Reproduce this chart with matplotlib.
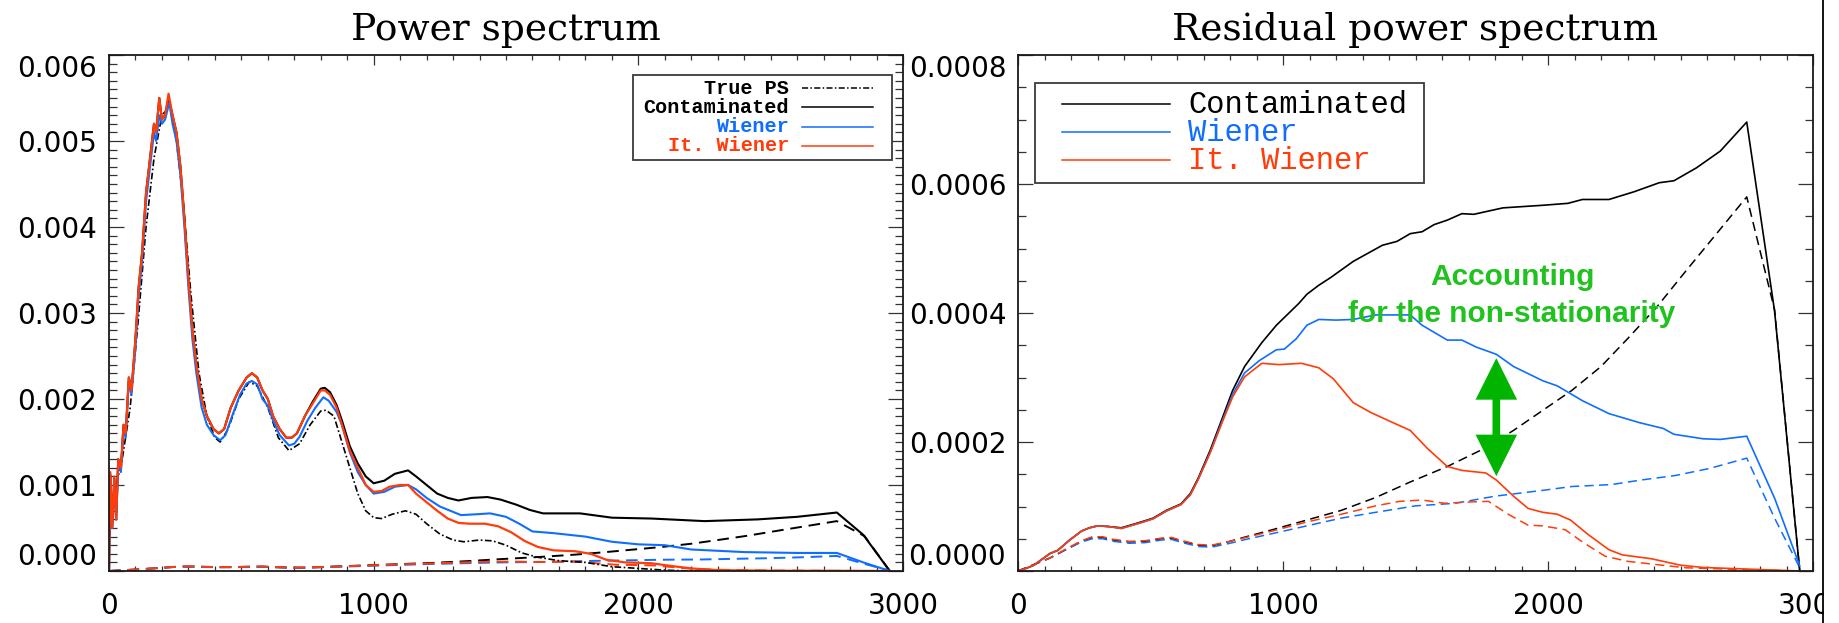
import numpy as np
import matplotlib
matplotlib.use("Agg")
import matplotlib.pyplot as plt
from matplotlib.lines import Line2D
from matplotlib.patches import Rectangle, FancyArrowPatch, ArrowStyle
from matplotlib.ticker import MultipleLocator, FormatStrFormatter

# ---------------------------------------------------------------- data
# Power spectra (left panel)
ell_true = [2, 20, 50, 80, 110, 140, 170, 200, 230, 255, 280, 310, 340, 370, 400, 420,
            450, 490, 530, 560, 600, 640, 680, 720, 760, 800, 820, 850, 880, 910, 940,
            970, 1000, 1030, 1070, 1120, 1160, 1200, 1250, 1300, 1340, 1400, 1450, 1500,
            1560, 1620, 1700, 1800, 1900, 2000, 2100, 2200, 2950]
ps_true = [0.0004, 0.0009, 0.0013, 0.0019, 0.0029, 0.0040, 0.0048, 0.0053, 0.0054, 0.0050,
           0.0043, 0.0032, 0.0023, 0.0018, 0.00155, 0.0015, 0.00165, 0.0020, 0.0022, 0.00215,
           0.0019, 0.00155, 0.0014, 0.00148, 0.0017, 0.00186, 0.00187, 0.0018, 0.0015, 0.0012,
           0.0009, 0.0007, 0.00062, 0.00061, 0.00066, 0.0007, 0.00066, 0.00055, 0.00043,
           0.00036, 0.00034, 0.00036, 0.00035, 0.0003, 0.00021, 0.00016, 0.00012, 0.0001,
           0.00005, 0.00003, 0.00001, 0.0, 0.0]

ell_cont = [0, 5, 12, 20, 27, 35, 45, 55, 63, 75, 85, 100, 112, 125, 140, 155, 170, 178,
            190, 200, 212, 225, 240, 255, 270, 285, 300, 315, 330, 350, 370, 395, 415, 435,
            460, 490, 520, 540, 560, 580, 600, 620, 645, 670, 690, 710, 740, 770, 800, 815,
            835, 860, 880, 910, 940, 970, 1000, 1040, 1080, 1130, 1160, 1200, 1240, 1280,
            1320, 1370, 1430, 1480, 1540, 1590, 1640, 1780, 1900, 2050, 2250, 2450, 2600,
            2750, 2850, 2950]
ps_cont = [0.0, 0.00112, 0.0005, 0.00108, 0.0006, 0.0013, 0.0012, 0.0017, 0.0016, 0.00225,
           0.0021, 0.0027, 0.0033, 0.0037, 0.0044, 0.0048, 0.0052, 0.0051, 0.0055, 0.00525,
           0.0053, 0.0055, 0.0053, 0.0051, 0.0047, 0.0041, 0.0034, 0.0028, 0.0024, 0.0020,
           0.0018, 0.00165, 0.0016, 0.00165, 0.0019, 0.0021, 0.00225, 0.0023, 0.00225,
           0.0021, 0.0020, 0.0018, 0.00165, 0.00155, 0.00155, 0.0016, 0.0018, 0.00197,
           0.00212, 0.00213, 0.00208, 0.00193, 0.00175, 0.00145, 0.00125, 0.0011, 0.00102,
           0.00105, 0.00113, 0.00117, 0.0011, 0.001, 0.0009, 0.00085, 0.00082, 0.00085,
           0.00086, 0.00083, 0.00077, 0.00071, 0.00067, 0.00067, 0.00062, 0.00061, 0.00058,
           0.0006, 0.00063, 0.00068, 0.00042, 0.0]

ell_wien = [0, 5, 12, 20, 27, 35, 45, 55, 63, 75, 85, 100, 112, 125, 140, 155, 170, 178,
            190, 200, 212, 228, 240, 255, 270, 285, 300, 315, 330, 350, 370, 395, 420, 440,
            465, 495, 520, 540, 560, 580, 600, 620, 645, 680, 700, 720, 750, 780, 810, 830,
            860, 880, 910, 940, 970, 1000, 1040, 1080, 1130, 1160, 1200, 1250, 1290, 1330,
            1390, 1440, 1500, 1550, 1600, 1680, 1800, 1900, 2000, 2100, 2200, 2400, 2600,
            2750, 2850, 2950]
ps_wien = [0.0, 0.0011, 0.0005, 0.00105, 0.0006, 0.00125, 0.00115, 0.00165, 0.00155,
           0.0022, 0.00205, 0.0026, 0.0032, 0.0036, 0.0043, 0.0047, 0.0051, 0.0050, 0.0053,
           0.0052, 0.00525, 0.00545, 0.0052, 0.0050, 0.0046, 0.0040, 0.0033, 0.0027, 0.0023,
           0.0019, 0.0017, 0.00158, 0.00152, 0.00158, 0.0018, 0.00205, 0.00218, 0.00221,
           0.00217, 0.002, 0.00192, 0.00175, 0.00158, 0.00146, 0.00148, 0.00156, 0.00175,
           0.0019, 0.00202, 0.00198, 0.00185, 0.0017, 0.00138, 0.00115, 0.001, 0.0009,
           0.00092, 0.00098, 0.001, 0.00095, 0.00085, 0.00075, 0.0007, 0.00065, 0.00066,
           0.00067, 0.00063, 0.00055, 0.00046, 0.00044, 0.0004, 0.00034, 0.00031, 0.0003,
           0.00025, 0.00022, 0.00021, 0.00021, 0.0001, 0.0]

ell_itw = [0, 5, 12, 20, 27, 35, 45, 55, 63, 75, 85, 100, 112, 125, 140, 155, 170, 178,
           190, 200, 212, 225, 240, 255, 270, 285, 300, 315, 330, 350, 370, 395, 415, 435,
           460, 490, 520, 540, 560, 580, 600, 620, 645, 670, 690, 710, 740, 770, 800, 815,
           835, 860, 880, 910, 940, 970, 1000, 1030, 1060, 1100, 1130, 1160, 1200, 1240,
           1280, 1320, 1360, 1420, 1470, 1520, 1570, 1620, 1680, 1760, 1820, 1880, 1950,
           2050, 2120, 2200, 2300, 2500, 2750, 2950]
ps_itw = [0.0, 0.00115, 0.0005, 0.0011, 0.0006, 0.0013, 0.0012, 0.0017, 0.0016, 0.00225,
          0.0021, 0.0027, 0.0033, 0.0037, 0.0044, 0.0048, 0.0052, 0.0051, 0.0055, 0.00525,
          0.0053, 0.00555, 0.0053, 0.0051, 0.0047, 0.0041, 0.0034, 0.0028, 0.0024, 0.0020,
          0.0018, 0.00165, 0.0016, 0.00165, 0.0019, 0.0021, 0.00225, 0.0023, 0.00225,
          0.0021, 0.0020, 0.0018, 0.00165, 0.00155, 0.00155, 0.0016, 0.0018, 0.00195,
          0.0021, 0.0021, 0.00205, 0.0019, 0.0017, 0.0014, 0.0012, 0.001, 0.00092, 0.00093,
          0.00098, 0.001, 0.001, 0.0009, 0.0008, 0.0007, 0.00061, 0.00056, 0.00055, 0.00055,
          0.00052, 0.00045, 0.00035, 0.00028, 0.00024, 0.00023, 0.0002, 0.00013, 0.0001,
          0.00009, 0.00006, 0.00003, 0.00001, 0.000003, 0.000002, 0.0]

# Residual power spectra (right panel, solid) after each cleaning
ell_res_cont = [0, 30, 60, 90, 120, 150, 195, 240, 270, 300, 340, 390, 440, 480, 510, 560,
                615, 650, 680, 725, 770, 810, 855, 920, 975, 1030, 1060, 1090, 1135, 1180,
                1265, 1375, 1430, 1480, 1525, 1570, 1620, 1675, 1720, 1830, 1980, 2075, 2130,
                2230, 2325, 2420, 2475, 2560, 2650, 2750, 2855, 2950]
res_cont = [0, 4e-6, 9e-6, 1.8e-5, 2.7e-5, 3.2e-5, 4.8e-5, 6.2e-5, 6.7e-5, 7.0e-5, 6.9e-5,
            6.7e-5, 7.3e-5, 7.8e-5, 8.2e-5, 9.4e-5, 1.04e-4, 1.2e-4, 1.44e-4, 1.87e-4,
            2.36e-4, 2.8e-4, 3.17e-4, 3.54e-4, 3.81e-4, 4.03e-4, 4.15e-4, 4.29e-4, 4.43e-4,
            4.55e-4, 4.8e-4, 5.05e-4, 5.11e-4, 5.23e-4, 5.26e-4, 5.37e-4, 5.44e-4, 5.54e-4,
            5.53e-4, 5.63e-4, 5.67e-4, 5.7e-4, 5.76e-4, 5.76e-4, 5.88e-4, 6.02e-4, 6.05e-4,
            6.25e-4, 6.51e-4, 6.96e-4, 4.03e-4, 0.0]

ell_res_wien = [0, 30, 60, 90, 120, 150, 195, 240, 270, 300, 340, 390, 440, 480, 510, 560,
                615, 650, 680, 725, 770, 810, 855, 910, 975, 1005, 1050, 1090, 1135, 1200,
                1265, 1350, 1480, 1525, 1620, 1675, 1730, 1805, 1870, 1980, 2035, 2130, 2230,
                2345, 2435, 2475, 2585, 2650, 2750, 2855, 2950]
res_wien = [0, 4e-6, 9e-6, 1.8e-5, 2.7e-5, 3.2e-5, 4.8e-5, 6.2e-5, 6.7e-5, 7.0e-5, 6.9e-5,
            6.6e-5, 7.2e-5, 7.7e-5, 8.1e-5, 9.3e-5, 1.03e-4, 1.18e-4, 1.42e-4, 1.84e-4,
            2.32e-4, 2.74e-4, 3.07e-4, 3.26e-4, 3.43e-4, 3.44e-4, 3.6e-4, 3.81e-4, 3.9e-4,
            3.89e-4, 3.9e-4, 3.97e-4, 3.97e-4, 3.81e-4, 3.58e-4, 3.58e-4, 3.47e-4, 3.36e-4,
            3.17e-4, 2.95e-4, 2.87e-4, 2.64e-4, 2.44e-4, 2.3e-4, 2.21e-4, 2.12e-4, 2.05e-4,
            2.04e-4, 2.09e-4, 1.13e-4, 8e-6]

ell_res_itw = [0, 30, 60, 90, 120, 150, 195, 240, 270, 300, 340, 390, 440, 480, 510, 560,
               615, 650, 680, 725, 770, 810, 855, 920, 985, 1070, 1135, 1190, 1265, 1330,
               1415, 1480, 1545, 1620, 1675, 1765, 1805, 1870, 1925, 1980, 2035, 2085, 2150,
               2230, 2280, 2390, 2500, 2585, 2750, 2950]
res_itw = [0, 4e-6, 9e-6, 1.8e-5, 2.7e-5, 3.2e-5, 4.8e-5, 6.2e-5, 6.7e-5, 7.0e-5, 6.9e-5,
           6.6e-5, 7.2e-5, 7.7e-5, 8.1e-5, 9.3e-5, 1.03e-4, 1.18e-4, 1.42e-4, 1.83e-4,
           2.3e-4, 2.7e-4, 3.01e-4, 3.22e-4, 3.2e-4, 3.22e-4, 3.15e-4, 2.98e-4, 2.61e-4,
           2.46e-4, 2.3e-4, 2.18e-4, 1.9e-4, 1.62e-4, 1.56e-4, 1.52e-4, 1.41e-4, 1.16e-4,
           9.7e-5, 9.1e-5, 8.8e-5, 7.9e-5, 5.7e-5, 3.3e-5, 2.5e-5, 1.9e-5, 9e-6, 5.5e-6,
           3e-6, 0.0]

# Noise-only residuals (dashed, drawn in both panels)
ell_noise_cont = [0, 60, 120, 180, 240, 280, 320, 360, 420, 480, 540, 580, 620, 680, 730,
                  800, 860, 960, 1090, 1220, 1350, 1480, 1620, 1760, 1870, 1980, 2090, 2200,
                  2300, 2410, 2520, 2630, 2750, 2855, 2950]
noise_cont = [0, 1.0e-5, 2.0e-5, 3.3e-5, 4.6e-5, 5.2e-5, 5.2e-5, 4.8e-5, 4.5e-5, 4.6e-5,
              5.0e-5, 5.1e-5, 4.6e-5, 4.0e-5, 3.9e-5, 4.6e-5, 5.3e-5, 6.4e-5, 7.9e-5,
              9.4e-5, 1.14e-4, 1.38e-4, 1.62e-4, 1.90e-4, 2.18e-4, 2.49e-4, 2.80e-4,
              3.17e-4, 3.60e-4, 4.09e-4, 4.65e-4, 5.20e-4, 5.80e-4, 4.05e-4, 0.0]

ell_noise_wien = [0, 60, 120, 180, 240, 280, 320, 360, 420, 480, 540, 580, 620, 680, 730,
                  800, 860, 960, 1090, 1220, 1350, 1500, 1650, 1800, 1980, 2090, 2240, 2350,
                  2480, 2610, 2750, 2855, 2950]
noise_wien = [0, 1.0e-5, 2.0e-5, 3.3e-5, 4.5e-5, 5.0e-5, 5.0e-5, 4.6e-5, 4.3e-5, 4.4e-5,
              4.8e-5, 4.9e-5, 4.4e-5, 3.8e-5, 3.7e-5, 4.3e-5, 4.9e-5, 5.8e-5, 7.0e-5,
              8.2e-5, 9.1e-5, 1.01e-4, 1.05e-4, 1.16e-4, 1.25e-4, 1.31e-4, 1.34e-4, 1.41e-4,
              1.48e-4, 1.59e-4, 1.75e-4, 8.2e-5, 5e-6]

ell_noise_itw = [0, 60, 120, 180, 240, 280, 320, 360, 420, 480, 540, 580, 620, 680, 730,
                 800, 860, 960, 1090, 1220, 1350, 1440, 1525, 1610, 1700, 1775, 1850, 1925,
                 1980, 2065, 2130, 2215, 2300, 2430, 2520, 2750, 2950]
noise_itw = [0, 1.0e-5, 2.0e-5, 3.4e-5, 4.7e-5, 5.3e-5, 5.3e-5, 4.9e-5, 4.6e-5, 4.7e-5,
             5.1e-5, 5.2e-5, 4.7e-5, 4.1e-5, 4.0e-5, 4.6e-5, 5.2e-5, 6.2e-5, 7.6e-5,
             8.8e-5, 1.01e-4, 1.08e-4, 1.10e-4, 1.05e-4, 1.07e-4, 1.08e-4, 8.8e-5, 7.1e-5,
             7.0e-5, 6.4e-5, 4.5e-5, 2.3e-5, 1.5e-5, 9e-6, 5e-6, 2e-6, 0.0]

left_yticks = [0.000, 0.001, 0.002, 0.003, 0.004, 0.005, 0.006]
right_yticks = [0.0000, 0.0002, 0.0004, 0.0006, 0.0008]
xticks = [0, 1000, 2000, 3000]
arrow_ell = 1805

# ---------------------------------------------------------------- style
BLUE = "#0F6EFF"
RED = "#FF3C0A"
GREEN_TXT = "#1FC21F"
GREEN_ARR = "#00B400"
W, H = 1839, 623
DASH = (0, (6.0, 3.5))
DASHDOT = (0, (4, 1.5, 1, 1.5))

fig = plt.figure(figsize=(W / 100, H / 100), dpi=100)


def fx(px):
    return px / W


def fy(py):
    return 1 - py / H


def make_axes(x0, x1, y0, y1):
    ax = fig.add_axes([fx(x0), fy(y1), fx(x1) - fx(x0), fy(y0) - fy(y1)])
    for s in ax.spines.values():
        s.set_linewidth(1.3)
        s.set_color("#1a1a1a")
    ax.tick_params(which="both", direction="in", top=True, right=True,
                   width=0.9, color="#333333", labelsize=20)
    ax.tick_params(axis="x", which="major", length=7.2, pad=15)
    ax.tick_params(axis="x", which="minor", length=3.6)
    ax.tick_params(axis="y", which="major", length=11, pad=8.5)
    ax.tick_params(axis="y", which="minor", length=5.8)
    ax.set_xlim(0, 3000)
    ax.set_xticks(xticks)
    ax.xaxis.set_minor_locator(MultipleLocator(100))
    return ax


def end_labels(ax):
    labs = ax.get_yticklabels()
    labs[0].set_va("bottom")
    labs[-1].set_va("top")


# ---------------------------------------------------------------- left panel
ax1 = make_axes(109, 903, 55, 571)
ax1.set_ylim(0, 0.006)
ax1.set_yticks(left_yticks)
ax1.yaxis.set_minor_locator(MultipleLocator(0.0001))
ax1.yaxis.set_major_formatter(FormatStrFormatter("%.3f"))
end_labels(ax1)

ax1.plot(ell_noise_cont, noise_cont, color="black", lw=1.4, ls=DASH)
ax1.plot(ell_noise_wien, noise_wien, color=BLUE, lw=1.4, ls=DASH)
ax1.plot(ell_noise_itw, noise_itw, color=RED, lw=1.4, ls=DASH)
ax1.plot(ell_true, ps_true, color="black", lw=1.2, ls=DASHDOT)
ax1.plot(ell_cont, ps_cont, color="black", lw=1.5)
ax1.plot(ell_wien, ps_wien, color=BLUE, lw=1.5)
ax1.plot(ell_itw, ps_itw, color=RED, lw=1.6)
ax1.set_title("Power spectrum", fontsize=27, family="DejaVu Serif", pad=11)

# ---------------------------------------------------------------- right panel
ax2 = make_axes(1018, 1813, 55, 571)
ax2.set_ylim(0, 0.0008)
ax2.set_yticks(right_yticks)
ax2.yaxis.set_minor_locator(MultipleLocator(0.00005))
ax2.yaxis.set_major_formatter(FormatStrFormatter("%.4f"))
end_labels(ax2)

ax2.plot(ell_noise_cont, noise_cont, color="black", lw=1.1, ls=DASH)
ax2.plot(ell_noise_wien, noise_wien, color=BLUE, lw=1.1, ls=DASH)
ax2.plot(ell_noise_itw, noise_itw, color=RED, lw=1.1, ls=DASH)
ax2.plot(ell_res_cont, res_cont, color="black", lw=1.2)
ax2.plot(ell_res_wien, res_wien, color=BLUE, lw=1.2)
ax2.plot(ell_res_itw, res_itw, color=RED, lw=1.2)
ax2.set_title("Residual power spectrum", fontsize=27, family="DejaVu Serif", pad=11)

# double arrow between the Wiener and iterative Wiener residuals
y_top = float(np.interp(arrow_ell, ell_res_wien, res_wien))
y_bot = float(np.interp(arrow_ell, ell_res_itw, res_itw))
arr = FancyArrowPatch((arrow_ell, y_bot + 0.000006), (arrow_ell, y_top - 0.000006),
                      arrowstyle=ArrowStyle("<|-|>", head_length=21, head_width=10.5),
                      mutation_scale=1, lw=5.5, color=GREEN_ARR,
                      shrinkA=0, shrinkB=0, joinstyle="miter", capstyle="butt", zorder=5)
ax2.add_patch(arr)

green_font = dict(family=["Liberation Sans Narrow", "Liberation Sans"], weight="bold",
                  fontsize=21.5, color=GREEN_TXT, ha="center", va="baseline", zorder=6)
ax2.text(1864, 0.000443, "Accounting", **green_font)
ax2.text(1864, 0.000386, "for the non-stationarity", **green_font)

# ---------------------------------------------------------------- legends


def fig_line(x0, x1, y, **kw):
    fig.add_artist(Line2D([fx(x0), fx(x1)], [fy(y), fy(y)], transform=fig.transFigure,
                          zorder=12, **kw))


def fig_box(x0, y0, x1, y1):
    fig.add_artist(Rectangle((fx(x0), fy(y1)), fx(x1) - fx(x0), fy(y0) - fy(y1),
                             transform=fig.transFigure, facecolor="white",
                             edgecolor="#3a3a3a", lw=1.3, zorder=11))


# left legend: labels right-aligned, samples on the right
fig_box(633, 75, 892, 160)
left_entries = [("True PS", "black", DASHDOT),
                ("Contaminated", "black", "-"),
                ("Wiener", BLUE, "-"),
                ("It. Wiener", RED, "-")]
for i, (lab, col, ls) in enumerate(left_entries):
    yy = 88 + i * 19.3
    fig.text(fx(789), fy(yy), lab, ha="right", va="center", color=col, fontsize=14.5,
             family="Liberation Mono", weight="bold", zorder=13)
    fig_line(802, 873, yy, color=col, lw=1.1, ls=ls)

# right legend: samples on the left
fig_box(1035, 83, 1424, 183)
right_entries = [("Contaminated", "black"), ("Wiener", BLUE), ("It. Wiener", RED)]
for i, (lab, col) in enumerate(right_entries):
    yy = 104 + i * 28
    fig.text(fx(1188), fy(yy + 1), lab, ha="left", va="center", color=col, fontsize=22,
             family="Liberation Mono", zorder=13)
    fig_line(1062, 1170, yy, color=col, lw=1.1)

# page edge on the right
fig.add_artist(Rectangle((fx(1824), 0), 1 - fx(1824), 1, transform=fig.transFigure,
                         facecolor="white", edgecolor="none", zorder=20))
fig.add_artist(Line2D([fx(1823), fx(1823)], [0, 1], transform=fig.transFigure,
                      color="black", lw=1.3, zorder=21))

fig.savefig("out.png", dpi=100, facecolor="white")
